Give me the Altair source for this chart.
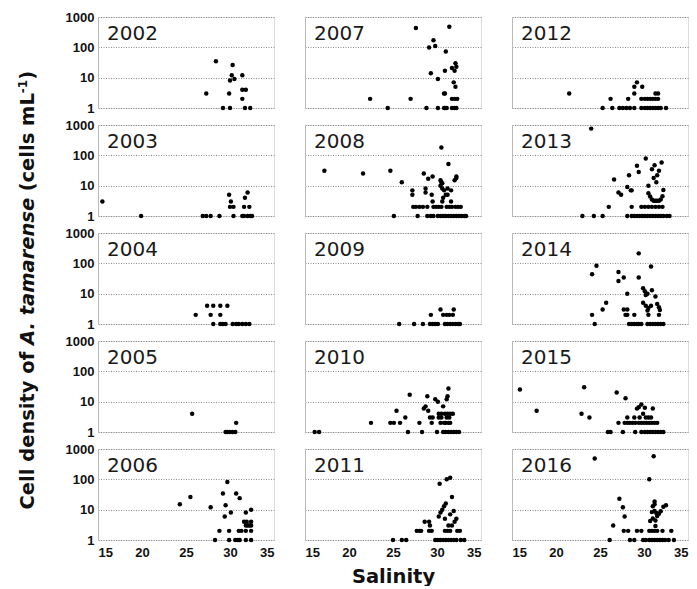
import altair as alt
import pandas as pd

# ---------------- data ----------------
years = [2002, 2003, 2004, 2005, 2006, 2007, 2008, 2009, 2010, 2011, 2012, 2013, 2014, 2015, 2016]

sal_2002 = [27.3, 28.4, 29.2, 29.9, 30.0, 30.3, 30.2, 30.0, 30.5, 31.4, 31.4, 31.8, 31.4, 31.7, 32.3]
den_2002 = [3, 35, 1, 3, 1, 26, 12, 8, 9, 12, 4, 4, 2, 1, 1]

sal_2003 = [15.5, 19.9, 26.9, 27.3, 27.8, 28.8, 29.9, 30.1, 30.0, 30.4, 30.4, 31.4, 31.6, 31.7, 32.0, 31.6, 32.0, 32.3, 32.5, 32.2]
den_2003 = [3, 1, 1, 1, 1, 1, 5, 3, 2, 2, 1, 1, 2, 4, 6, 1, 1, 1, 1, 2]

sal_2004 = [26.1, 27.4, 28.1, 28.9, 29.7, 27.8, 28.9, 28.1, 28.9, 29.2, 29.5, 30.3, 30.7, 31.0, 31.4, 31.8, 32.2]
den_2004 = [2, 4, 4, 4, 4, 2, 2, 1, 1, 1, 1, 1, 1, 1, 1, 1, 1]

sal_2005 = [25.7, 29.5, 29.7, 30.0, 30.3, 30.6, 30.7]
den_2005 = [4, 1, 1, 1, 1, 1, 2]

sal_2006 = [24.3, 25.5, 27.8, 28.3, 28.8, 29.2, 29.7, 29.5, 29.4, 30.1, 29.9, 29.9, 30.7, 31.1, 30.6, 30.9,
            31.1, 31.0, 31.3, 31.8, 32.4, 31.6, 31.9, 31.8, 32.0, 32.2, 32.4, 32.4, 31.8, 32.4, 31.8, 32.4]
den_2006 = [15, 26, 12, 1, 2, 34, 82, 14, 6, 8, 2, 1, 34, 24, 1, 1,
            1, 2, 2, 8, 10, 4, 4, 3, 3, 3, 3, 4, 2, 2, 1, 1]

sal_2007 = [22.4, 24.4, 27.0, 27.6, 28.8, 29.1, 29.3, 29.6, 29.8, 30.1, 30.1, 30.8, 30.9, 30.9, 31.0, 31.4,
            30.8, 30.9, 31.1, 31.7, 32.1, 32.2, 32.0, 31.9, 32.1, 31.7, 32.0, 32.3, 31.7, 32.0, 32.2]
den_2007 = [2, 1, 2, 435, 1, 98, 14, 170, 111, 9, 1, 3, 3, 17, 73, 475,
            1, 1, 1, 21, 30, 23, 17, 7, 5, 2, 2, 2, 1, 1, 1]

sal_2008 = [17.2, 21.6, 24.7, 25.1, 26.0, 27.2, 27.2, 27.8, 28.5, 28.7, 28.7, 29.0, 29.5, 29.4, 29.5,
            30.5, 30.4, 30.5, 30.6, 30.4, 30.6, 30.8, 31.0, 30.7, 30.6, 31.3, 31.2, 31.2, 31.6, 31.6,
            32.0, 32.2, 32.2,
            27.3, 27.6, 28.0, 28.4, 28.9, 29.6, 29.9, 30.2, 30.5, 31.1, 31.4, 31.7, 32.1, 32.4, 32.7,
            28.9, 29.3, 29.6, 30.1, 30.4, 30.7, 31.0, 31.3, 31.6, 31.9, 32.2, 32.5, 32.8, 33.1, 33.3]
den_2008 = [31, 25, 31, 1, 13, 7, 5, 1, 25, 8, 6, 17, 20, 5, 3,
            180, 15, 13, 12, 10, 8, 7, 5, 4, 3, 52, 8, 5, 7, 3,
            15, 18, 20,
            2, 2, 2, 2, 2, 2, 2, 2, 2, 2, 2, 2, 2, 2, 2,
            1, 1, 1, 1, 1, 1, 1, 1, 1, 1, 1, 1, 1, 1, 1]

sal_2009 = [25.7, 27.4, 28.4, 29.2, 29.5, 29.8, 30.1, 30.9, 31.2, 31.5, 31.8, 32.1, 32.4, 32.6,
            29.3, 30.4, 30.7, 31.1, 31.4, 31.9, 31.8]
den_2009 = [1, 1, 1, 1, 1, 1, 1, 1, 1, 1, 1, 1, 1, 1,
            2, 3, 2, 2, 2, 3, 2]

sal_2010 = [16.1, 16.6, 22.5, 24.7, 25.1, 25.4, 25.8, 26.4, 26.7, 26.9, 28.0, 28.3, 28.5, 28.7, 28.9,
            29.0, 29.2, 29.5, 29.4, 29.8, 30.1, 30.0,
            30.2, 30.5, 30.9, 31.2, 31.5, 31.8,
            30.2, 30.5, 31.1, 31.4,
            30.4, 30.8, 31.0, 31.3, 31.5,
            30.7, 31.1, 31.2, 31.3,
            30.7, 31.0, 31.3, 31.6, 31.9, 32.2, 32.5]
den_2010 = [1, 1, 2, 2, 2, 5, 2, 3, 1, 17, 2, 1, 6, 7, 15,
            5, 3, 3, 2, 12, 10, 1,
            4, 4, 4, 4, 4, 4,
            3, 3, 3, 3,
            2, 2, 2, 2, 2,
            7, 12, 15, 27,
            1, 1, 1, 1, 1, 1, 1]

sal_2011 = [25.0, 26.0, 26.5, 27.7, 28.0, 28.2, 28.6, 29.1, 29.2, 29.1, 29.4,
            29.8, 30.1, 30.4, 30.7, 31.0, 31.3, 31.6, 31.9, 32.2, 32.7, 33.1,
            30.3, 31.1, 31.5, 31.7, 31.0, 30.8, 30.6, 30.4, 30.2, 31.5, 31.3, 30.9, 31.9, 32.2, 32.0, 31.7,
            30.9, 31.2, 31.5, 32.3, 32.6]
den_2011 = [1, 1, 1, 2, 2, 2, 4, 4, 3, 2, 2,
            1, 1, 1, 1, 1, 1, 1, 1, 1, 1, 1,
            71, 100, 113, 26, 16, 13, 10, 8, 6, 7, 3, 5, 9, 5, 4, 3,
            2, 2, 2, 2, 2]

sal_2012 = [21.5, 25.3, 26.2, 26.4, 27.2, 27.6, 28.0, 28.4, 28.9, 28.2, 28.9, 28.9, 29.2, 29.8,
            29.7, 30.1, 30.4, 30.7, 31.0, 31.3, 31.6,
            31.3, 31.6,
            29.7, 30.1, 30.4, 30.7, 31.0, 31.3, 31.6, 31.9, 32.5]
den_2012 = [3, 1, 2, 1, 1, 1, 1, 1, 1, 2, 3, 5, 7, 5,
            2, 2, 2, 2, 2, 2, 2,
            3, 3,
            1, 1, 1, 1, 1, 1, 1, 1, 1]

sal_2013 = [24.0, 23.0, 24.3, 25.3, 26.0, 26.6, 27.1, 27.4, 28.1, 28.3, 28.5, 28.6,
            28.1, 28.6, 28.9, 29.2, 29.5, 29.8, 30.1, 30.4, 30.7, 31.0, 31.3, 31.6, 31.9, 32.2, 32.6, 32.9,
            29.2, 29.4,
            28.6, 29.7, 30.1, 30.5, 30.9, 31.3, 31.7, 32.1,
            30.2, 30.5,
            30.5, 30.7, 30.9, 31.1, 31.3, 31.5, 31.7, 31.9, 32.1, 32.2,
            30.9, 31.2, 31.1, 31.5, 31.7, 32.0, 31.4]
den_2013 = [760, 1, 1, 1, 2, 16, 6, 5, 9, 22, 7, 7,
            1, 1, 1, 1, 1, 1, 1, 1, 1, 1, 1, 1, 1, 1, 1, 1,
            45, 28,
            2, 2, 2, 2, 2, 2, 2, 2,
            78, 10,
            5.6, 4.4, 3.5, 3.2, 3.2, 3.2, 3.2, 3.5, 4.5, 7.2,
            35, 47, 18, 22, 31, 58, 13]

sal_2014 = [24.1, 24.4, 24.1, 24.6, 25.3, 25.7, 27.1, 27.1, 27.7, 27.7, 28.1, 28.1, 27.9, 28.1, 28.9,
            28.3, 28.6, 28.9, 29.2, 29.4, 29.7,
            29.4, 29.4, 30.8, 29.9, 30.1, 30.4, 30.2, 30.9, 29.9, 30.2, 30.5, 30.8, 30.4,
            31.3, 31.5, 31.7, 31.8, 30.5, 31.7,
            30.4, 30.7, 31.0, 31.3, 31.6, 31.9, 32.2]
den_2014 = [2, 1, 44, 83, 3, 5, 52, 26, 34, 3, 3, 10, 2, 2, 2,
            1, 1, 1, 1, 1, 1,
            213, 34, 79, 15, 12, 10, 9, 13, 5, 4, 3.4, 4, 2.8,
            8, 4.6, 3.6, 2.9, 2, 2,
            1, 1, 1, 1, 1, 1, 1]

sal_2015 = [15.9, 17.8, 23.2, 22.9, 23.8, 26.9, 27.9, 25.9, 26.2, 27.1, 27.6,
            27.8, 28.1, 28.4, 28.7, 29.0,
            28.1, 28.9, 29.0,
            29.4, 29.7, 29.2, 30.1, 31.0,
            29.9, 30.2, 30.5, 30.8, 29.5,
            29.4, 29.7, 30.0, 30.3, 30.6, 30.9, 31.2, 31.5,
            29.7, 30.1, 30.4, 30.7, 31.0, 31.3, 31.6, 31.9, 32.2]
den_2015 = [25, 5, 30, 4, 3, 20, 13, 1, 1, 2, 1,
            2, 2, 2, 2, 2,
            3, 3, 1,
            6.6, 8.1, 5.9, 6.3, 6,
            4, 3, 3, 3, 3,
            2, 2, 2, 2, 2, 2, 2, 2,
            1, 1, 1, 1, 1, 1, 1, 1, 1]

sal_2016 = [24.4, 31.1, 30.6, 26.1, 26.5, 27.2, 27.6, 27.8, 27.7, 28.2, 28.4, 28.9, 29.2, 29.7,
            29.9, 30.2, 30.6, 30.9, 31.2, 31.5, 31.8, 32.1, 32.4, 32.8, 33.4,
            30.6, 30.9, 31.2, 31.5, 32.1, 33.1,
            30.7, 31.0, 31.3, 31.5, 30.9, 31.2, 31.4, 31.2, 31.2, 31.0, 32.2, 32.5, 31.9, 31.7, 31.3]
den_2016 = [490, 580, 100, 1, 3, 23, 12, 6, 2, 2, 1, 1, 2, 2,
            1, 1, 1, 1, 1, 1, 1, 1, 1, 1, 1,
            2, 2, 2, 2, 2, 2,
            4.2, 5.1, 4.4, 6.2, 8.3, 9, 7.7, 18.6, 15, 13, 12.4, 14, 8.8, 7.3, 2.9]

x_ticks = [15, 20, 25, 30, 35]
y_ticks = [1, 10, 100, 1000]

SAL = {2002: sal_2002, 2003: sal_2003, 2004: sal_2004, 2005: sal_2005, 2006: sal_2006,
       2007: sal_2007, 2008: sal_2008, 2009: sal_2009, 2010: sal_2010, 2011: sal_2011,
       2012: sal_2012, 2013: sal_2013, 2014: sal_2014, 2015: sal_2015, 2016: sal_2016}
DEN = {2002: den_2002, 2003: den_2003, 2004: den_2004, 2005: den_2005, 2006: den_2006,
       2007: den_2007, 2008: den_2008, 2009: den_2009, 2010: den_2010, 2011: den_2011,
       2012: den_2012, 2013: den_2013, 2014: den_2014, 2015: den_2015, 2016: den_2016}

# ---------------- layout ----------------
W, H = 176, 91
ROW_GAP = 17
COL_GAP = 31
PANEL_LEFT = 98          # canvas x of the first column's plot area
TITLE_CX = 28            # canvas x of the y-title centre line
TITLE_BOTTOM = 509       # canvas y where the y-title starts (it reads upward)
TICK_FONT = "Liberation Sans"
TEXT_FONT = "DejaVu Sans"

# glyph advance widths (em) of DejaVu Sans Bold, used to chain the title pieces
EM = {" ": 0.348, "(": 0.457, ")": 0.457, ".": 0.381, "-": 0.415, "1": 0.696,
      "A": 0.774, "C": 0.734, "L": 0.637, "a": 0.675, "c": 0.593, "d": 0.716, "e": 0.678,
      "f": 0.435, "i": 0.343, "l": 0.343, "m": 1.042, "n": 0.712, "o": 0.687, "r": 0.493,
      "s": 0.595, "t": 0.478, "y": 0.652}


def tw(s, size):
    return sum(EM.get(ch, 0.6) for ch in s) * size


TS = 19.5
# (text, font size, style, sideways shift, advance to the next piece incl. spaces)
title_pieces = [("Cell density of", TS, "normal", 0, tw("Cell density of ", TS)),
                ("A. tamarense", TS, "italic", 0, tw("A. tamarense ", TS)),
                ("(cells mL", TS, "normal", 0, tw("(cells mL", TS)),
                ("-1", 12, "normal", -5, tw("-1", 12)),
                (")", TS, "normal", 0, tw(")", TS))]


def y_title_layers(panel_top):
    layers = []
    ypos = TITLE_BOTTOM - panel_top
    cx = TITLE_CX - PANEL_LEFT
    for txt, size, style, dx, adv in title_pieces:
        layers.append(
            alt.Chart(pd.DataFrame({"t": [txt]})).mark_text(
                angle=270, align="left", baseline="middle", font=TEXT_FONT, fontSize=size,
                fontWeight="bold", fontStyle=style, color="#111111"
            ).encode(x=alt.value(cx + dx), y=alt.value(ypos), text="t:N")
        )
        ypos -= adv
    return layers


def panel(year, col, row):
    df = pd.DataFrame({"Salinity": SAL[year], "Density": DEN[year]})
    if row == 4:
        xkw = dict(values=x_ticks, ticks=False, domain=False, grid=False, labelPadding=6,
                   labelFont=TICK_FONT, labelFontWeight="bold", labelFontSize=13,
                   labelColor="#111111")
        if col == 1:
            xkw.update(title="Salinity", titleFont=TEXT_FONT, titleFontWeight="bold",
                       titleFontSize=19.5, titlePadding=8, titleColor="#111111")
        else:
            xkw.update(title=None)
        x_axis = alt.Axis(**xkw)
    else:
        x_axis = None
    y_axis = alt.Axis(values=y_ticks, format="d", labels=(col == 0), ticks=False,
                      domain=True, domainColor="#b8b8b8", grid=True, gridColor="#8a8a8a",
                      gridDash=[1, 1.5], labelPadding=4, labelFont=TICK_FONT,
                      labelFontWeight="bold", labelFontSize=13, labelColor="#111111",
                      title=None)
    pts = alt.Chart(df).mark_circle(size=20, color="black", opacity=1).encode(
        x=alt.X("Salinity:Q", scale=alt.Scale(domain=[15, 35], nice=False, zero=False), axis=x_axis),
        y=alt.Y("Density:Q", scale=alt.Scale(type="log", domain=[1, 1000], nice=False), axis=y_axis),
    )
    lab = alt.Chart(pd.DataFrame({"label": [str(year)]})).mark_text(
        align="left", baseline="alphabetic", font=TEXT_FONT, fontSize=20, color="#1a1a1a"
    ).encode(x=alt.value(9), y=alt.value(23), text="label:N")
    layers = [pts, lab]
    if col == 0 and row == 2:
        layers += y_title_layers(16.5 + row * (H + ROW_GAP))
    return alt.layer(*layers).properties(width=W, height=H)


panels = []
for r in range(5):
    for c in range(3):
        panels.append(panel(years[c * 5 + r], c, r))

chart = alt.concat(
    *panels, columns=3, spacing={"row": ROW_GAP, "column": COL_GAP}, bounds="flush"
).properties(
    padding={"left": 16, "top": 10, "right": 0, "bottom": 0}
).configure_view(strokeWidth=0, stroke="transparent").configure(background="white")

chart.save("out.html", embed_options={"renderer": "svg", "actions": False})
